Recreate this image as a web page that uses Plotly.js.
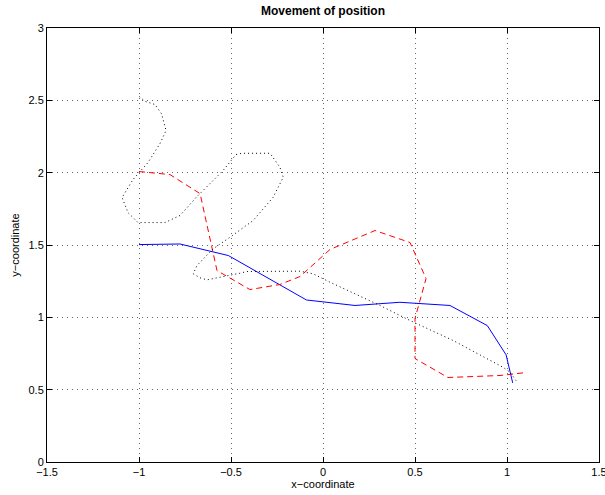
<!DOCTYPE html>
<html>
<head>
<meta charset="utf-8">
<script src="https://cdn.plot.ly/plotly-3.0.1.min.js"></script>
<style>html,body{margin:0;padding:0;background:#fff;}#chart{width:605px;height:495px;}</style>
</head>
<body>
<div id="chart"></div>
<script>
// Blue solid path
var blueX = [-1.000, -0.777, -0.514, -0.090, 0.174, 0.418, 0.690, 0.893, 0.995, 1.031];
var blueY = [1.503, 1.507, 1.427, 1.120, 1.082, 1.104, 1.082, 0.943, 0.741, 0.547];

// Red dashed path
var redX = [-1.000, -0.832, -0.668, -0.576, -0.397, -0.234, -0.125, 0.038, 0.283, 0.473, 0.560, 0.500, 0.500, 0.679, 0.962, 1.109];
var redY = [2.008, 1.987, 1.855, 1.323, 1.192, 1.227, 1.282, 1.469, 1.600, 1.517, 1.268, 0.992, 0.715, 0.584, 0.598, 0.619];

// Black dotted path
var dotX = [-0.998, -0.967, -0.913, -0.877, -0.853, -0.886, -0.951, -1.033, -1.092, -1.060, -1.005, -0.859, -0.777, -0.690, -0.543, -0.473, -0.440, -0.288, -0.234, -0.216, -0.272, -0.380, -0.505, -0.598, -0.685, -0.705, -0.668, -0.630, -0.451, -0.413, -0.125, -0.054, 0.038, 0.310, 0.473, 0.707, 0.978, 1.016, 1.049];
var dotY = [2.526, 2.493, 2.471, 2.406, 2.291, 2.201, 2.070, 1.952, 1.828, 1.724, 1.655, 1.655, 1.704, 1.828, 2.015, 2.125, 2.134, 2.134, 2.037, 1.968, 1.828, 1.669, 1.554, 1.473, 1.358, 1.301, 1.273, 1.259, 1.305, 1.317, 1.319, 1.301, 1.243, 1.082, 0.978, 0.840, 0.655, 0.621, 0.563];

var xTicks = [-1.5, -1, -0.5, 0, 0.5, 1, 1.5];
var yTicks = [0, 0.5, 1, 1.5, 2, 2.5, 3];

var traces = [
  {x: blueX, y: blueY, mode: 'lines', type: 'scatter', line: {color: '#0000ff', width: 1}},
  {x: redX, y: redY, mode: 'lines', type: 'scatter', line: {color: '#ff0000', width: 1, dash: '6px,4px'}},
  {x: dotX, y: dotY, mode: 'lines', type: 'scatter', line: {color: '#000000', width: 1, dash: '1px,3px'}}
];

var axisCommon = {
  showline: true, linecolor: '#000', linewidth: 1, mirror: 'ticks',
  ticks: 'inside', ticklen: 5, tickcolor: '#000', tickwidth: 1,
  showgrid: true, gridcolor: '#666', griddash: '1px,4px', gridwidth: 1,
  zeroline: false, ticklabeloverflow: 'allow',
  tickfont: {family: 'Liberation Sans, Arial, sans-serif', size: 11, color: '#000'}
};

var layout = {
  width: 605, height: 495,
  margin: {l: 47, r: 6, t: 28, b: 33},
  paper_bgcolor: '#fff', plot_bgcolor: '#fff',
  showlegend: false,
  font: {family: 'Liberation Sans, Arial, sans-serif', size: 11, color: '#000'},
  title: {text: '<b>Movement of position</b>', x: 0.5, xref: 'paper', y: 0.978, yref: 'container', yanchor: 'middle',
          font: {family: 'Liberation Sans, Arial, sans-serif', size: 12, color: '#000'}},
  xaxis: Object.assign({}, axisCommon, {
    range: [-1.5, 1.5], tickvals: xTicks, ticktext: xTicks.map(function(v){return (v<0?'\u2212':'') + Math.abs(v);}),
    title: {text: 'x\u2212coordinate', standoff: 2, font: {family: 'Liberation Sans, Arial, sans-serif', size: 11, color: '#000'}}
  }),
  yaxis: Object.assign({}, axisCommon, {
    range: [0, 3], tickvals: yTicks, ticktext: yTicks.map(function(v){return String(v);}),
    title: {text: 'y\u2212coordinate', standoff: 6, font: {family: 'Liberation Sans, Arial, sans-serif', size: 11, color: '#000'}}
  })
};

Plotly.newPlot('chart', traces, layout, {staticPlot: true, displayModeBar: false});
</script>
</body>
</html>
